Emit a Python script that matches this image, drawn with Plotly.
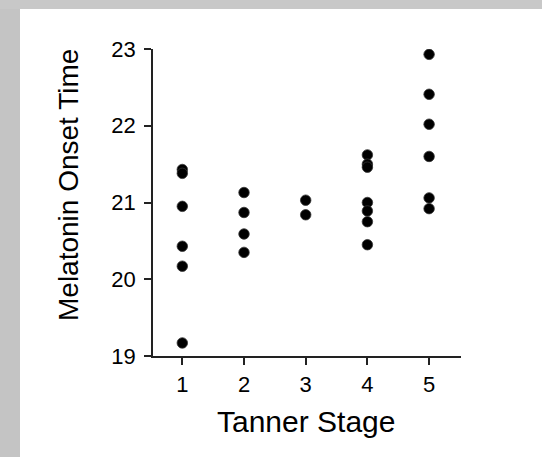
import plotly.graph_objects as go

stages = [1, 2, 3, 4, 5]
stage1 = [21.43, 21.38, 20.95, 20.43, 20.17, 19.17]
stage2 = [21.13, 20.87, 20.59, 20.35]
stage3 = [21.03, 20.84]
stage4 = [21.62, 21.50, 21.46, 21.00, 20.89, 20.75, 20.45]
stage5 = [22.93, 22.41, 22.02, 21.60, 21.06, 20.92]
y_ticks = [19, 20, 21, 22, 23]
x_title = "Tanner Stage"
y_title = "Melatonin Onset Time"

groups = [stage1, stage2, stage3, stage4, stage5]
xs, ys = [], []
for s, vals in zip(stages, groups):
    xs += [s] * len(vals)
    ys += vals

W, H = 542, 457
L, R, T, B = 153, 461, 49, 356

def px(x):
    return (x - L) / (R - L)

def py(y):
    return (B - y) / (B - T)

fig = go.Figure()
fig.add_trace(go.Scatter(
    x=xs, y=ys, mode="markers",
    marker=dict(size=10.5, color="black", line=dict(color="#333333", width=0.8)),
    showlegend=False, hoverinfo="skip",
))

font = "Liberation Sans, Arial, sans-serif"
axis_common = dict(
    showline=True, linecolor="#222222", linewidth=1.6,
    ticks="outside", ticklen=7, tickwidth=1.5, tickcolor="#222222",
    showgrid=False, zeroline=False,
    tickfont=dict(family=font, size=22, color="black"),
)

fig.update_xaxes(range=[0.525, 5.517], tickvals=stages, ticklabelstandoff=1, **axis_common)
fig.update_yaxes(range=[19, 23], tickvals=y_ticks, ticklabelstandoff=4, **axis_common)

# grey frame strips (left and top) of the slide background
fig.add_shape(type="rect", xref="paper", yref="paper",
              x0=px(-5), x1=px(20), y0=py(-5), y1=py(465),
              fillcolor="#c4c4c4", line=dict(width=0), layer="below")
fig.add_shape(type="rect", xref="paper", yref="paper",
              x0=px(-5), x1=px(550), y0=py(-5), y1=py(9),
              fillcolor="#c8c8c8", line=dict(width=0), layer="below")

fig.add_annotation(text=x_title, xref="paper", yref="paper",
                   x=px(306), y=py(421), xanchor="center", yanchor="middle",
                   showarrow=False, font=dict(family=font, size=30, color="black"))
fig.add_annotation(text=y_title, xref="paper", yref="paper",
                   x=px(68), y=py(185), xanchor="center", yanchor="middle",
                   textangle=-90,
                   showarrow=False, font=dict(family=font, size=28, color="black"))

fig.update_layout(
    width=W, height=H,
    margin=dict(l=L, r=W - R, t=T, b=H - B, pad=0),
    paper_bgcolor="white", plot_bgcolor="white",
)

fig.write_html("out.html")
